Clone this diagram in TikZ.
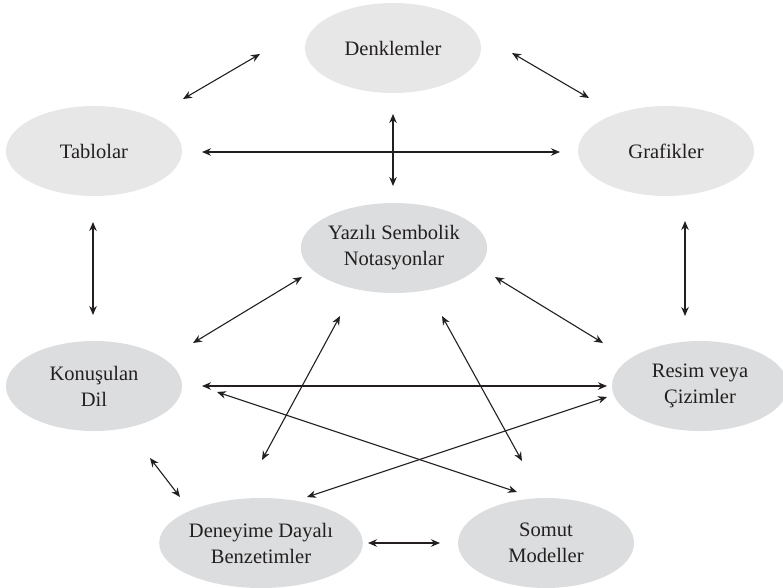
\documentclass[tikz,border=0pt]{standalone}
\usepackage{fontspec}
\setmainfont{Liberation Serif}
\usetikzlibrary{arrows.meta,shapes.geometric}
\definecolor{lightfill}{RGB}{230,231,230}
\definecolor{darkfill}{RGB}{220,221,222}
\definecolor{ink}{RGB}{35,31,32}
\tikzset{
  bubble/.style={ellipse, draw=none, minimum width=176pt, minimum height=90pt, inner sep=0pt,
    align=center, text=ink, font=\fontsize{20.5pt}{26pt}\selectfont},
  lightbubble/.style={bubble, fill=lightfill},
  darkbubble/.style={bubble, fill=darkfill},
  arr/.style={draw=ink, line width=1.1pt, {Stealth[length=9pt,width=7.5pt]}-{Stealth[length=9pt,width=7.5pt]}}
}
\begin{document}
\begin{tikzpicture}[x=1pt,y=-1pt]
\useasboundingbox (0,0) rectangle (783,587);
\node[lightbubble] (D) at (393,48) {Denklemler};
\node[lightbubble] (T) at (94,151) {Tablolar};
\node[lightbubble] (G) at (666,151) {Grafikler};
\node[darkbubble] (Y) at (394,248) {Yazılı Sembolik\\Notasyonlar};
\node[darkbubble] (K) at (94,386) {Konuşulan\\Dil};
\node[darkbubble] (R) at (700,386) {Resim veya\\Çizimler};
\node[darkbubble] (Dn) at (261,543) {Deneyime Dayalı\\Benzetimler};
\node[darkbubble] (S) at (546,543) {Somut\\Modeller};

\draw[arr] ([shift={(89,-52)}]T.center) -- ([shift={(-133,6)}]D.center);
\draw[arr] ([shift={(119,5)}]D.center) -- ([shift={(-77,-53)}]G.center);
\draw[arr] ([shift={(108,1)}]T.center) -- ([shift={(-106,1)}]G.center);
\draw[arr] ([shift={(0,66)}]D.center) -- ([shift={(-1,-62)}]Y.center);
\draw[arr] ([shift={(-1,71)}]T.center) -- ([shift={(-1,-71)}]K.center);
\draw[arr] ([shift={(19,70)}]G.center) -- ([shift={(-15,-70)}]R.center);
\draw[arr] ([shift={(-92,29)}]Y.center) -- ([shift={(99,-43)}]K.center);
\draw[arr] ([shift={(101,29)}]Y.center) -- ([shift={(-97,-43)}]R.center);
\draw[arr] ([shift={(108,0)}]K.center) -- ([shift={(-93,0)}]R.center);
\draw[arr] ([shift={(123,6)}]K.center) -- ([shift={(-29,-51)}]S.center);
\draw[arr] ([shift={(-93,11)}]R.center) -- ([shift={(46,-46)}]Dn.center);
\draw[arr] ([shift={(-54,68)}]Y.center) -- ([shift={(1,-83)}]Dn.center);
\draw[arr] ([shift={(48,68)}]Y.center) -- ([shift={(-24,-82)}]S.center);
\draw[arr] ([shift={(56,72)}]K.center) -- ([shift={(-81,-46)}]Dn.center);
\draw[arr] ([shift={(107,0)}]Dn.center) -- ([shift={(-106,0)}]S.center);
\end{tikzpicture}
\end{document}
